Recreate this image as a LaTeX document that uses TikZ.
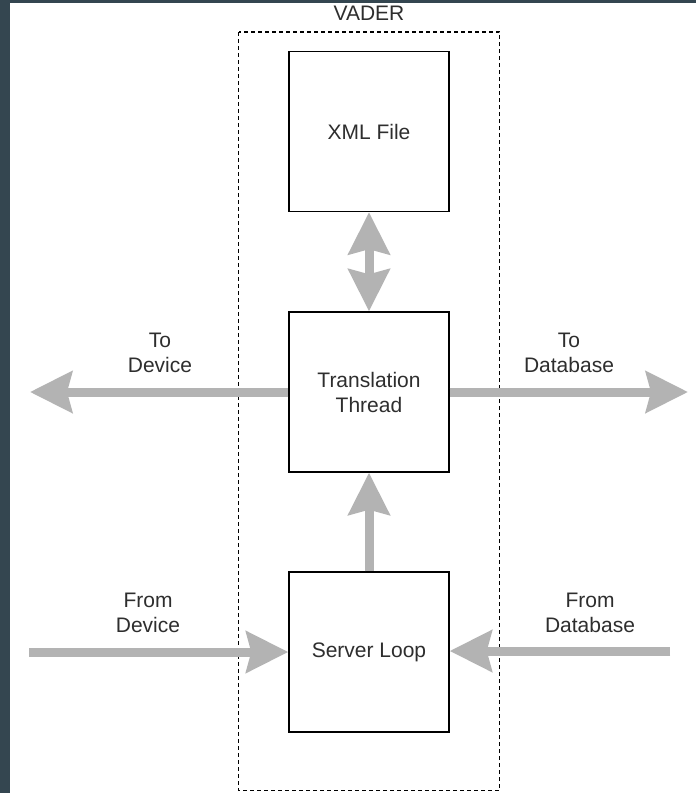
\documentclass[tikz,border=0pt]{standalone}
\usepackage{fontspec}
\setmainfont{Liberation Sans}
\usetikzlibrary{arrows.meta}
\definecolor{frame}{HTML}{344650}
\definecolor{arrowgray}{HTML}{B3B3B3}
\definecolor{txt}{HTML}{2E2E2E}
\tikzset{
  box/.style={draw=black, line width=1.4pt, minimum width=160pt, minimum height=160pt, inner sep=0pt, align=center, text=txt, font=\fontsize{21}{25}\selectfont},
  lbl/.style={align=center, text=txt, font=\fontsize{21}{25}\selectfont, inner sep=0pt},
  head/.tip={Stealth[length=42pt,width=41pt,inset=5pt]},
  fat/.style={draw=arrowgray, line width=9pt, -head},
  fatboth/.style={draw=arrowgray, line width=9pt, head-head},
}
\begin{document}
\begin{tikzpicture}[x=1pt,y=-1pt]
\useasboundingbox (0,0) rectangle (696,793);
\fill[white] (0,0) rectangle (696,793);
\fill[frame] (0,0) rectangle (10,793);
\fill[frame] (0,0) rectangle (696,3);
% dashed container
\draw[black, line width=1.7pt, dash pattern=on 4pt off 3pt] (238.5,32) rectangle (499.5,790.5);
\node[lbl, anchor=base] (vader) at (369,20) {VADER};
% boxes
\node[box] (xml) at (369,131.5) {XML File};
\node[box] (tt) at (369,392) {Translation\\Thread};
\node[box] (sl) at (369,652) {Server Loop};
% free ends
\coordinate (devout) at (30,392);
\coordinate (dbout) at (688,392);
\coordinate (devin) at (29,652);
\coordinate (dbin) at (670,651);
% connectors
\draw[fatboth] (xml.south) -- (tt.north);
\draw[fat] (sl.north) -- (tt.south);
\draw[fat] (tt.west) -- (devout);
\draw[fat] (tt.east) -- (dbout);
\draw[fat] (devin) -- (sl.west);
\draw[fat] (dbin) -- (sl.east |- dbin);
% labels
\node[lbl] (ltodev) at (160,353) {To\\Device};
\node[lbl] (ltodb) at (569,353) {To\\Database};
\node[lbl] (lfromdev) at (148,613) {From\\Device};
\node[lbl] (lfromdb) at (590,613) {From\\Database};
\end{tikzpicture}
\end{document}
